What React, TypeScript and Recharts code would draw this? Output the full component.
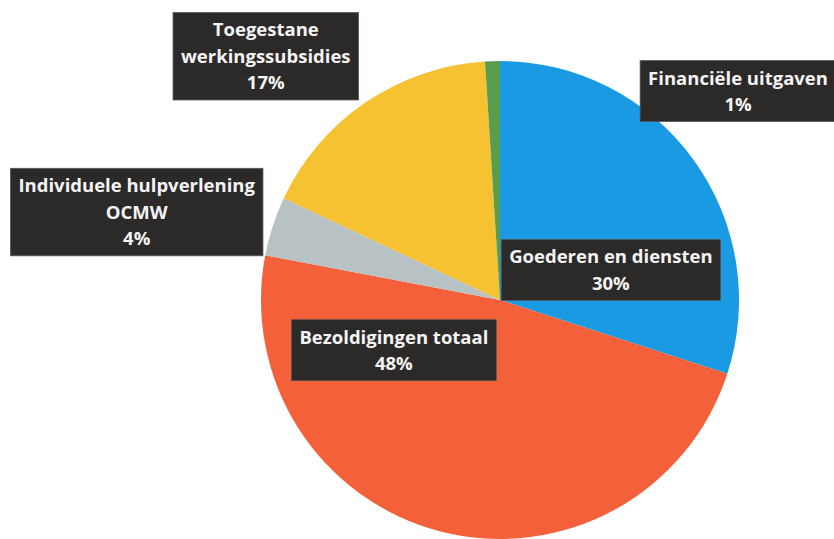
import React from "react";
import { PieChart, Pie, Cell } from "recharts";

const categories = [
  "Goederen en diensten",
  "Bezoldigingen totaal",
  "Individuele hulpverlening\nOCMW",
  "Toegestane\nwerkingssubsidies",
  "Financiële uitgaven",
];
const shares = [30, 48, 4, 17, 1];
const percentLabels = ["30%", "48%", "4%", "17%", "1%"];

const colors = ["#1b9ae4", "#f3603a", "#b8c2c4", "#f6c232", "#5b9d4f"];
// label box centre, relative to the pie centre, in units of the radius
const labelOffsets: [number, number][] = [
  [0.464, -0.126],
  [-0.444, 0.21],
  [-1.52, -0.368],
  [-0.98, -1.02],
  [0.996, -0.874],
];

const data = categories.map((name, i) => ({ name, value: shares[i], pct: percentLabels[i] }));

const FONT = "bold 18.5px 'Open Sans'";
let ctx: CanvasRenderingContext2D | null = null;
function measure(t: string): number {
  if (typeof document === "undefined") return t.length * 10;
  if (!ctx) ctx = document.createElement("canvas").getContext("2d");
  if (!ctx) return t.length * 10;
  ctx.font = FONT;
  return ctx.measureText(t).width;
}

const LINE_H = 26.5;

function renderLabel(props: any) {
  const { cx, cy, outerRadius, index } = props;
  const d = data[index];
  const lines = [...d.name.split("\n"), d.pct];
  const off = labelOffsets[index];
  const x = cx + off[0] * outerRadius;
  const y = cy + off[1] * outerRadius;
  const w = Math.max(...lines.map(measure)) + 16;
  const h = lines.length * LINE_H + 8;
  const top = y - h / 2;
  return (
    <g key={`lbl-${index}`}>
      <rect x={x - w / 2} y={top} width={w} height={h} fill="#2c2929" stroke="#5a5858" strokeWidth={0.8} />
      {lines.map((ln, j) => (
        <text
          key={j}
          x={x}
          y={top + 4 + LINE_H * (j + 1) - 6.5}
          textAnchor="middle"
          fill="#f4f4f4"
          style={{ font: FONT }}
        >
          {ln}
        </text>
      ))}
    </g>
  );
}

export default function App() {
  return (
    <div style={{ position: "absolute", left: 0, top: 0, width: 834, height: 539, background: "#ffffff", overflow: "hidden" }}>
      <PieChart width={834} height={539} margin={{ top: 0, right: 0, bottom: 0, left: 0 }}>
        <Pie
          data={data}
          dataKey="value"
          nameKey="name"
          cx={500}
          cy={300}
          outerRadius={239}
          startAngle={90}
          endAngle={-270}
          stroke="none"
          label={renderLabel}
          labelLine={false}
          isAnimationActive={false}
        >
          {data.map((_, i) => (
            <Cell key={i} fill={colors[i]} />
          ))}
        </Pie>
      </PieChart>
    </div>
  );
}
